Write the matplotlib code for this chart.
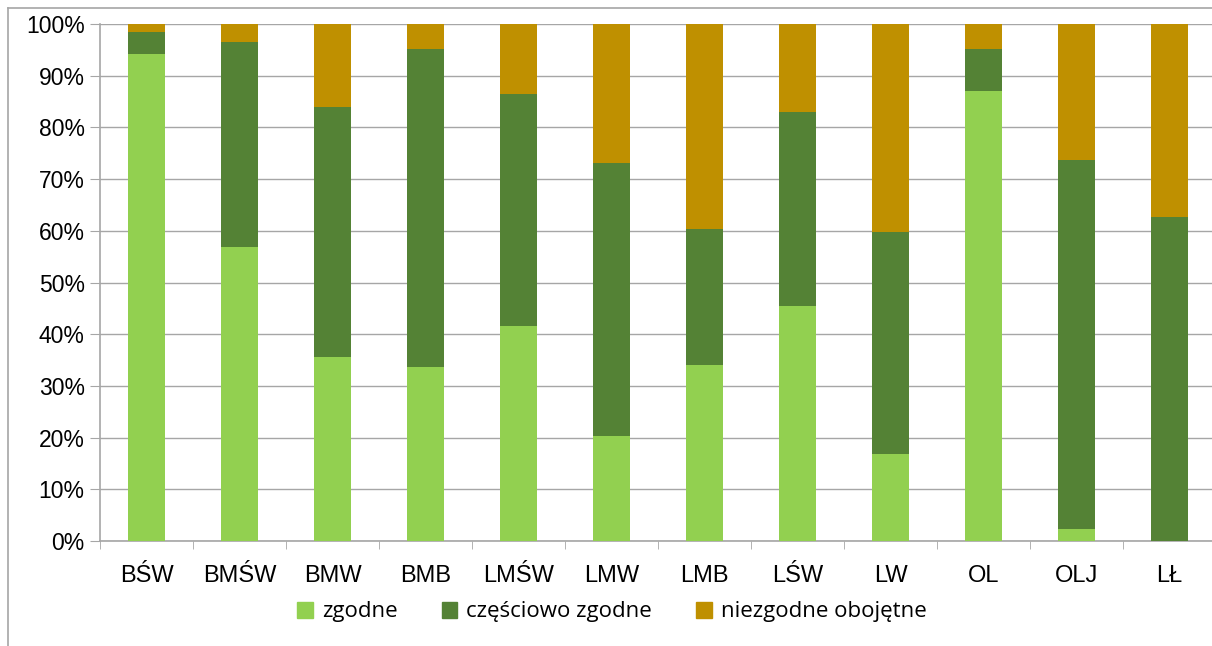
import matplotlib.pyplot as plt
import numpy as np
from matplotlib.lines import Line2D
from matplotlib.ticker import FixedLocator, PercentFormatter

# data (cumulative tops converted to shares)
categories = ["BŚW", "BMŚW", "BMW", "BMB", "LMŚW", "LMW", "LMB", "LŚW", "LW", "OL", "OLJ", "LŁ"]
zgodne = [94.2, 56.9, 35.6, 33.7, 41.6, 20.3, 34.0, 45.5, 16.8, 87.0, 2.3, 0.0]
czesciowo = [4.3, 39.6, 48.3, 61.5, 44.9, 52.8, 26.3, 37.5, 43.0, 8.2, 71.4, 62.7]
niezgodne = [100 - a - b for a, b in zip(zgodne, czesciowo)]

series_names = ["zgodne", "częściowo zgodne", "niezgodne obojętne"]
colors = ["#92D050", "#548235", "#BF9000"]

W, H = 1212, 646
fig = plt.figure(figsize=(W / 100, H / 100), dpi=100)
ax = fig.add_axes([100 / W, 105 / H, 1116 / W, 517 / H])

x = np.arange(len(categories))
bottom = np.zeros(len(categories))
for vals, name, col in zip([zgodne, czesciowo, niezgodne], series_names, colors):
    ax.bar(x, vals, width=0.4, bottom=bottom, color=col, label=name, zorder=3)
    bottom += np.array(vals)

ax.set_xlim(-0.5, len(categories) - 0.5)
ax.set_ylim(0, 100)
ax.set_yticks(np.arange(0, 101, 10))
ax.yaxis.set_major_formatter(PercentFormatter(decimals=0))
ax.grid(axis="y", color="#a6a6a6", linewidth=1, zorder=0)

# category labels centred, tick marks between categories
ax.set_xticks(x)
ax.set_xticklabels(categories)
ax.xaxis.set_minor_locator(FixedLocator(np.arange(-0.5, len(categories), 1)))
ax.tick_params(axis="x", which="major", length=0, pad=17, labelsize=17)
ax.tick_params(axis="x", which="minor", length=6, color="#a6a6a6")
ax.tick_params(axis="y", length=7, color="#a6a6a6", labelsize=16.5, pad=4)
for lab in ax.get_xticklabels() + ax.get_yticklabels():
    lab.set_fontfamily("Liberation Sans")

for side in ["top", "right"]:
    ax.spines[side].set_visible(False)
for side in ["left", "bottom"]:
    ax.spines[side].set_color("#a6a6a6")
    ax.spines[side].set_linewidth(1.2)

handles = [plt.Rectangle((0, 0), 1, 1, color=c) for c in colors]
fig.legend(handles, series_names, loc="center", bbox_to_anchor=(612 / W, 1 - 612 / H),
           ncol=3, frameon=False, handlelength=0.7, handleheight=0.7,
           handletextpad=0.4, columnspacing=2.0,
           prop={"family": "Open Sans", "size": 16})

# outer chart border (cut off at the right and bottom in the original)
fig.add_artist(Line2D([7.5 / W, 7.5 / W], [0, 1 - 8 / H], color="#a6a6a6", lw=1.2))
fig.add_artist(Line2D([7.5 / W, 1], [1 - 8 / H, 1 - 8 / H], color="#a6a6a6", lw=1.2))

fig.savefig("out.png", dpi=100)
